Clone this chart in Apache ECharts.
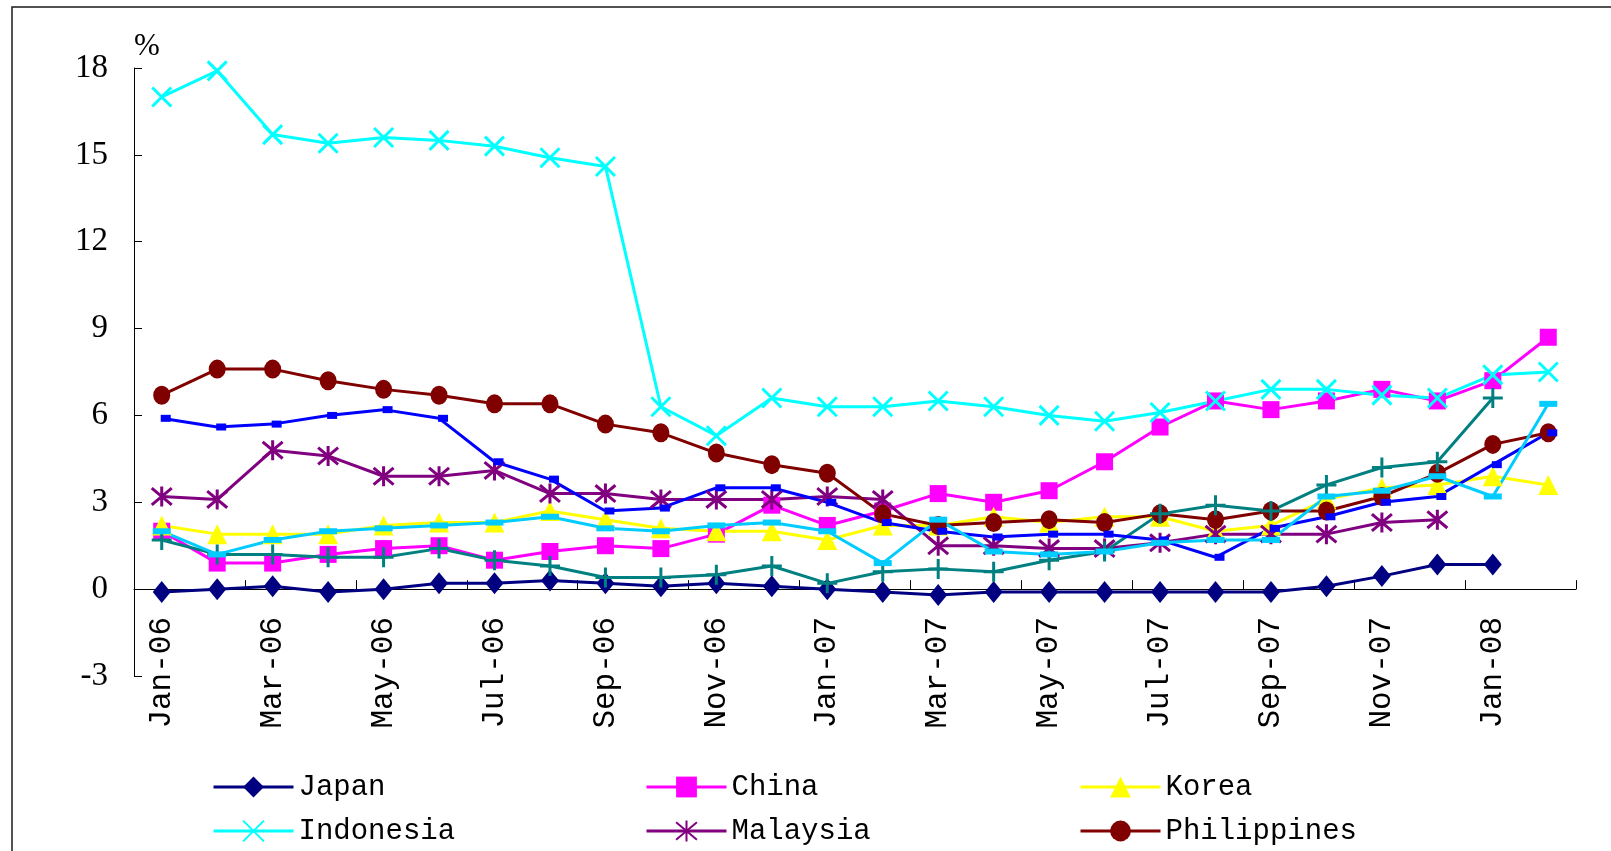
<!DOCTYPE html>
<html>
<head>
<meta charset="utf-8">
<script src="https://cdn.jsdelivr.net/npm/echarts@6/dist/echarts.min.js"></script>
<style>
  html, body { margin: 0; padding: 0; background: #ffffff; }
  #chart { width: 1611px; height: 851px; }
</style>
</head>
<body>
<div id="chart"></div>
<script>
// Monthly CPI inflation, % year on year
const months = ['Jan-06','Feb-06','Mar-06','Apr-06','May-06','Jun-06','Jul-06','Aug-06','Sep-06','Oct-06','Nov-06','Dec-06',
                'Jan-07','Feb-07','Mar-07','Apr-07','May-07','Jun-07','Jul-07','Aug-07','Sep-07','Oct-07','Nov-07','Dec-07',
                'Jan-08','Feb-08'];

const japan       = [-0.1, 0.0, 0.1, -0.1, 0.0, 0.2, 0.2, 0.3, 0.2, 0.1, 0.2, 0.1, 0.0, -0.1, -0.2, -0.1, -0.1, -0.1, -0.1, -0.1, -0.1, 0.1, 0.45, 0.85, 0.85, null];
const china       = [2.0, 0.9, 0.9, 1.2, 1.4, 1.5, 1.0, 1.3, 1.5, 1.4, 1.9, 2.9, 2.2, 2.7, 3.3, 3.0, 3.4, 4.4, 5.6, 6.5, 6.2, 6.5, 6.9, 6.5, 7.2, 8.7];
const korea       = [2.2, 1.9, 1.9, 1.9, 2.2, 2.3, 2.3, 2.7, 2.4, 2.1, 2.0, 2.0, 1.7, 2.2, 2.2, 2.5, 2.3, 2.5, 2.5, 2.0, 2.2, 3.1, 3.5, 3.6, 3.9, 3.6];
const indonesia   = [17.0, 17.9, 15.7, 15.4, 15.6, 15.5, 15.3, 14.9, 14.6, 6.3, 5.3, 6.6, 6.3, 6.3, 6.5, 6.3, 6.0, 5.8, 6.1, 6.5, 6.9, 6.9, 6.7, 6.6, 7.4, 7.5];
const malaysia    = [3.2, 3.1, 4.8, 4.6, 3.9, 3.9, 4.1, 3.3, 3.3, 3.1, 3.1, 3.1, 3.2, 3.1, 1.5, 1.5, 1.4, 1.4, 1.6, 1.9, 1.9, 1.9, 2.3, 2.4, null, null];
const philippines = [6.7, 7.6, 7.6, 7.2, 6.9, 6.7, 6.4, 6.4, 5.7, 5.4, 4.7, 4.3, 4.0, 2.6, 2.2, 2.3, 2.4, 2.3, 2.6, 2.4, 2.7, 2.7, 3.2, 4.0, 5.0, 5.4];
const singapore   = [1.7, 1.2, 1.2, 1.1, 1.1, 1.4, 1.0, 0.8, 0.4, 0.4, 0.5, 0.8, 0.2, 0.6, 0.7, 0.6, 1.0, 1.3, 2.6, 2.9, 2.7, 3.6, 4.2, 4.4, 6.6, null];
const thailand    = [5.9, 5.6, 5.7, 6.0, 6.2, 5.9, 4.4, 3.8, 2.7, 2.8, 3.5, 3.5, 3.0, 2.3, 2.0, 1.8, 1.9, 1.9, 1.7, 1.1, 2.1, 2.5, 3.0, 3.2, 4.3, 5.4];
const hongKong    = [2.0, 1.2, 1.7, 2.0, 2.1, 2.2, 2.3, 2.5, 2.1, 2.0, 2.2, 2.3, 2.0, 0.9, 2.4, 1.3, 1.2, 1.3, 1.6, 1.7, 1.7, 3.2, 3.4, 3.9, 3.2, 6.4];

const legendColumns = [['Japan', 'Indonesia'], ['China', 'Malaysia'], ['Korea', 'Philippines']];

// Marker shapes drawn as strokes
const SYM_CROSS_X = 'path://M0,0L10,10M10,0L0,10';
const SYM_STAR    = 'path://M0,0L10,10M10,0L0,10M5,-1L5,11';
const SYM_PLUS    = 'path://M5,0L5,10M0,5L10,5';

function lineSeries(name, data, color, symbol, size, opts) {
  opts = opts || {};
  const stroked = !!opts.stroked;
  return {
    name: name,
    type: 'line',
    data: data,
    symbol: symbol,
    symbolSize: size,
    symbolOffset: opts.offset || [0, 0],
    showAllSymbol: true,
    connectNulls: false,
    lineStyle: { color: color, width: 3 },
    itemStyle: stroked
      ? { color: color, borderColor: color, borderWidth: 3 }
      : { color: color, borderWidth: 0 },
    emphasis: { disabled: true },
    z: 2
  };
}

const legendCommon = {
  orient: 'vertical',
  top: 767,
  itemWidth: 80,
  itemHeight: 26,
  itemGap: 14,
  selectedMode: false,
  lineStyle: { width: 3 },
  textStyle: { fontFamily: 'Liberation Mono', fontSize: 29, color: '#000', lineHeight: 30 }
};
const legendLefts = [207, 640, 1074];

const chart = echarts.init(document.getElementById('chart'), null, { renderer: 'canvas' });
chart.setOption({
  animation: false,
  backgroundColor: '#ffffff',
  graphic: [{
    type: 'rect',
    shape: { x: 12, y: 7, width: 1700, height: 900 },
    style: { fill: 'none', stroke: '#1a1a1a', lineWidth: 1.5 },
    silent: true
  }],
  grid: { left: 134, right: 35, top: 68, bottom: 175 },
  legend: legendColumns.map((names, i) => Object.assign({}, legendCommon, { left: legendLefts[i], data: names })),
  xAxis: {
    type: 'category',
    data: months,
    boundaryGap: true,
    axisLine: { onZero: true, lineStyle: { color: '#000', width: 1 } },
    axisTick: { show: true, inside: true, length: 9, interval: 1, lineStyle: { color: '#000' } },
    // labels hang just under the zero line
    axisLabel: { interval: 1, rotate: 90, margin: -59, fontFamily: 'Liberation Mono', fontSize: 31, color: '#000' },
    splitLine: { show: false }
  },
  yAxis: {
    type: 'value',
    min: -3,
    max: 18,
    interval: 3,
    name: '%',
    nameLocation: 'end',
    nameGap: 6,
    nameTextStyle: { fontFamily: 'Liberation Serif', fontSize: 31, color: '#000', align: 'left', verticalAlign: 'bottom' },
    axisLine: { show: true, lineStyle: { color: '#000', width: 1 } },
    axisTick: { show: true, inside: true, length: 8, lineStyle: { color: '#000' } },
    axisLabel: { margin: 26, fontFamily: 'Liberation Serif', fontSize: 33, color: '#000' },
    splitLine: { show: false }
  },
  series: [
    lineSeries('Japan', japan, '#000080', 'diamond', [18, 22]),
    lineSeries('China', china, '#FF00FF', 'rect', 17),
    lineSeries('Korea', korea, '#FFFF00', 'triangle', [20, 20]),
    lineSeries('Indonesia', indonesia, '#00FFFF', SYM_CROSS_X, 19, { stroked: true }),
    lineSeries('Malaysia', malaysia, '#800080', SYM_STAR, 20, { stroked: true }),
    lineSeries('Philippines', philippines, '#800000', 'circle', [17, 19]),
    lineSeries('Singapore', singapore, '#008080', SYM_PLUS, 20, { stroked: true }),
    lineSeries('Thailand', thailand, '#0000FF', 'rect', [10, 7], { offset: [4, 0] }),
    lineSeries('Hong Kong', hongKong, '#00CCFF', 'rect', [18, 6])
  ]
});
</script>
</body>
</html>
